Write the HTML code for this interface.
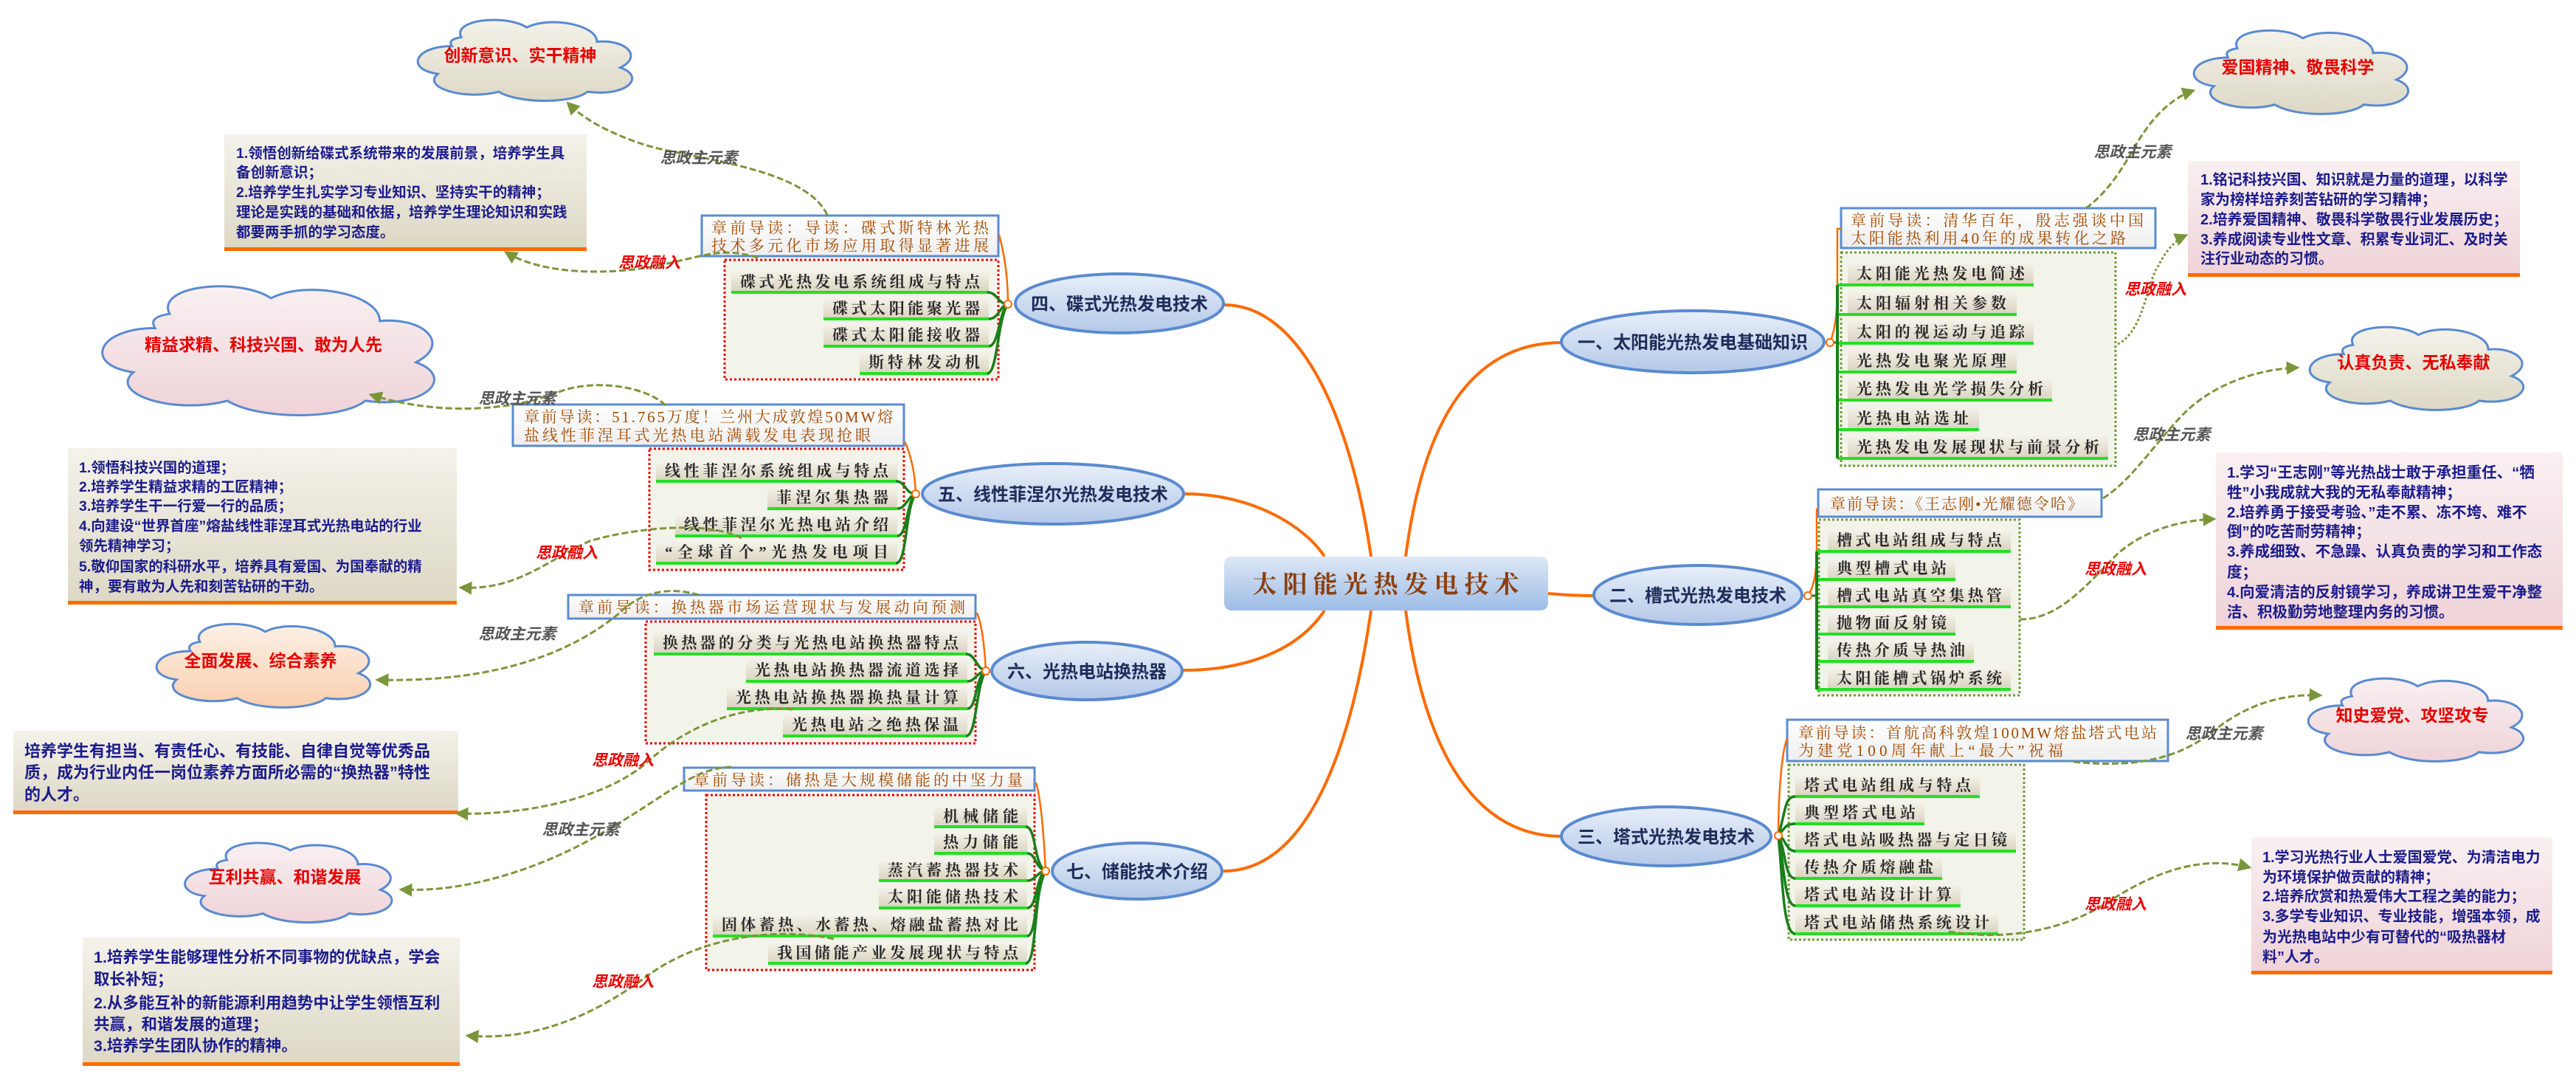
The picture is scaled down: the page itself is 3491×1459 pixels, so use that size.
<!DOCTYPE html>
<html><head><meta charset="utf-8"><style>
html,body{margin:0;padding:0;background:#fff}
svg{display:block}
.sans{font-family:"Liberation Sans","Noto Sans CJK SC",sans-serif;font-weight:bold}
.ser{font-family:"Liberation Serif","Noto Serif CJK SC",serif}
.bt{font-family:"Liberation Sans","Noto Sans CJK SC",sans-serif;font-weight:bold;fill:#1c1c8c}
.it{font-family:"Liberation Serif","Noto Serif CJK SC",serif;font-size:21px;fill:#2a2a2a;font-weight:bold}
.ld{font-family:"Liberation Serif","Noto Serif CJK SC",serif;font-size:21px;fill:#a34a00}
.nd{font-family:"Liberation Sans","Noto Sans CJK SC",sans-serif;font-weight:bold;font-size:24px;fill:#1f2d5a}
.zy{font-family:"Liberation Sans","Noto Sans CJK SC",sans-serif;font-weight:bold;font-style:italic;font-size:21px;fill:#555}
.rj{font-family:"Liberation Sans","Noto Sans CJK SC",sans-serif;font-weight:bold;font-style:italic;font-size:21px;fill:#e00}
.cl{font-family:"Liberation Sans","Noto Sans CJK SC",sans-serif;font-weight:bold;font-size:23px;fill:#e60000}
.arr{fill:none;stroke:#7b963a;stroke-width:3;stroke-dasharray:9,4}
.arrd{fill:none;stroke:#7b963a;stroke-width:3;stroke-dasharray:3,3}
.main{fill:none;stroke:#ff6a00;stroke-width:4}
.or{fill:none;stroke:#ff6a00;stroke-width:2.5}
.gr{fill:none;stroke:#1a7f1a;stroke-width:3.5}
</style></head><body>
<svg width="3491" height="1459" viewBox="0 0 3491 1459" xmlns="http://www.w3.org/2000/svg">
<defs>
<linearGradient id="gBeige" x1="0" y1="0" x2="0" y2="1"><stop offset="0" stop-color="#f4f2ea"/><stop offset="1" stop-color="#ddd8c5"/></linearGradient>
<linearGradient id="gPink" x1="0" y1="0" x2="0" y2="1"><stop offset="0" stop-color="#f9f0f1"/><stop offset="1" stop-color="#efd3d8"/></linearGradient>
<linearGradient id="gPeach" x1="0" y1="0" x2="0" y2="1"><stop offset="0" stop-color="#fdf0e4"/><stop offset="1" stop-color="#f9cfb0"/></linearGradient>
<linearGradient id="gItem" x1="0" y1="0" x2="0" y2="1"><stop offset="0" stop-color="#f6f4ec"/><stop offset="1" stop-color="#d9d3bf"/></linearGradient>
<linearGradient id="gLead" x1="0" y1="0" x2="0" y2="1"><stop offset="0" stop-color="#ffffff"/><stop offset="1" stop-color="#eeeeee"/></linearGradient>
<linearGradient id="gNode" x1="0" y1="0" x2="0" y2="1"><stop offset="0" stop-color="#e8eff9"/><stop offset="1" stop-color="#b3c8e8"/></linearGradient>
<linearGradient id="gCenter" x1="0" y1="0" x2="0" y2="1"><stop offset="0" stop-color="#dde8f6"/><stop offset="1" stop-color="#9dbce6"/></linearGradient>
<marker id="ah" viewBox="0 0 10 10" refX="8" refY="5" markerWidth="6" markerHeight="6" orient="auto"><path d="M0,0 L10,5 L0,10 z" fill="#7b963a"/></marker>
<symbol id="cloud" viewBox="0 0 100 100" preserveAspectRatio="none">
<path d="M20,36 C4,36 0,62 14,67 C7,82 25,97 40,87 C49,101 72,100 78,87 C95,93 103,70 92,60 C102,47 94,28 82,31 C82,12 62,2 52,15 C43,0 20,6 24,26 C19,28 19,32 20,36 Z" vector-effect="non-scaling-stroke" stroke="#5a8ad0" stroke-width="3"/>
</symbol>
</defs>

<!-- main connectors -->
<path class="main" d="M1659,413 C1760,413 1830,560 1858,754"/>
<path class="main" d="M1905,754 C1930,560 2000,464 2117,464"/>
<path class="main" d="M1605,669 C1700,669 1770,715 1795,754"/>
<path class="main" d="M2098,804 C2120,806 2140,807 2161,807"/>
<path class="main" d="M1795,827 C1760,880 1690,908 1603,908"/>
<path class="main" d="M1858,827 C1830,1020 1770,1180 1658,1180"/>
<path class="main" d="M1905,827 C1930,1020 2000,1133 2117,1133"/>

<!-- center -->
<rect x="1659" y="754" width="439" height="73" rx="10" fill="url(#gCenter)"/>
<text x="1882" y="803" text-anchor="middle" class="ser" font-size="33" font-weight="bold" fill="#8b3f0e" letter-spacing="8">太阳能光热发电技术</text>

<!-- nodes -->
<ellipse cx="1517" cy="411" rx="141" ry="40" fill="url(#gNode)" stroke="#5a8ad0" stroke-width="4"/>
<text x="1517" y="420" text-anchor="middle" class="nd">四、碟式光热发电技术</text>
<ellipse cx="1427" cy="669" rx="177" ry="41" fill="url(#gNode)" stroke="#5a8ad0" stroke-width="4"/>
<text x="1427" y="678" text-anchor="middle" class="nd">五、线性菲涅尔光热发电技术</text>
<ellipse cx="1473" cy="909" rx="129" ry="39" fill="url(#gNode)" stroke="#5a8ad0" stroke-width="4"/>
<text x="1473" y="918" text-anchor="middle" class="nd">六、光热电站换热器</text>
<ellipse cx="1541" cy="1180" rx="115" ry="38" fill="url(#gNode)" stroke="#5a8ad0" stroke-width="4"/>
<text x="1541" y="1189" text-anchor="middle" class="nd">七、储能技术介绍</text>
<ellipse cx="2294" cy="463" rx="178" ry="42" fill="url(#gNode)" stroke="#5a8ad0" stroke-width="4"/>
<text x="2294" y="472" text-anchor="middle" class="nd">一、太阳能光热发电基础知识</text>
<ellipse cx="2301" cy="806" rx="141" ry="40" fill="url(#gNode)" stroke="#5a8ad0" stroke-width="4"/>
<text x="2301" y="815" text-anchor="middle" class="nd">二、槽式光热发电技术</text>
<ellipse cx="2258" cy="1133" rx="142" ry="40" fill="url(#gNode)" stroke="#5a8ad0" stroke-width="4"/>
<text x="2258" y="1142" text-anchor="middle" class="nd">三、塔式光热发电技术</text>

<!-- ===== group 四 ===== -->
<rect x="982" y="352" width="371" height="162" fill="#f2f4ea" stroke="#e00" stroke-width="3" stroke-dasharray="3,3"/>
<rect x="951" y="292" width="402" height="55" fill="url(#gLead)" stroke="#5b8bd0" stroke-width="3"/>
<text x="964" y="316" class="ld" textLength="376" lengthAdjust="spacing">章前导读：导读：碟式斯特林光热</text>
<text x="964" y="340" class="ld" textLength="376" lengthAdjust="spacing">技术多元化市场应用取得显著进展</text>
<path class="or" d="M1366,412 C1366,370 1360,340 1354,318"/>
<g>
<rect x="991" y="365" width="349" height="31" fill="url(#gItem)"/><line x1="991" y1="396" x2="1340" y2="396" stroke="#22e022" stroke-width="4"/>
<text x="1003" y="389" class="it" textLength="325" lengthAdjust="spacing">碟式光热发电系统组成与特点</text>
<rect x="1116" y="403" width="224" height="29" fill="url(#gItem)"/><line x1="1116" y1="432" x2="1340" y2="432" stroke="#22e022" stroke-width="4"/>
<text x="1128" y="425" class="it" textLength="200" lengthAdjust="spacing">碟式太阳能聚光器</text>
<rect x="1116" y="438" width="224" height="31" fill="url(#gItem)"/><line x1="1116" y1="469" x2="1340" y2="469" stroke="#22e022" stroke-width="4"/>
<text x="1128" y="461" class="it" textLength="200" lengthAdjust="spacing">碟式太阳能接收器</text>
<rect x="1165" y="475" width="175" height="31" fill="url(#gItem)"/><line x1="1165" y1="506" x2="1340" y2="506" stroke="#22e022" stroke-width="4"/>
<text x="1177" y="498" class="it" textLength="151" lengthAdjust="spacing">斯特林发动机</text>
</g>
<path class="gr" d="M1366,412 C1352,412 1352,396 1338,396 M1366,412 C1356,412 1354,432 1340,432 M1366,412 C1354,420 1354,469 1340,469 M1366,412 C1352,430 1352,506 1338,506"/>
<circle cx="1366" cy="412" r="5" fill="#fff" stroke="#ff6a00" stroke-width="2"/>

<!-- ===== group 五 ===== -->
<rect x="880" y="608" width="345" height="164" fill="#f2f4ea" stroke="#e00" stroke-width="3" stroke-dasharray="3,3"/>
<rect x="695" y="548" width="530" height="56" fill="url(#gLead)" stroke="#5b8bd0" stroke-width="3"/>
<text x="710" y="572" class="ld" textLength="500" lengthAdjust="spacing">章前导读：51.765万度！兰州大成敦煌50MW熔</text>
<text x="710" y="597" class="ld" textLength="470" lengthAdjust="spacing">盐线性菲涅耳式光热电站满载发电表现抢眼</text>
<path class="or" d="M1241,669 C1240,640 1234,615 1226,598"/>
<rect x="889" y="624" width="327" height="28" fill="url(#gItem)"/><line x1="889" y1="652" x2="1216" y2="652" stroke="#22e022" stroke-width="4"/>
<text x="901" y="645" class="it" textLength="303" lengthAdjust="spacing">线性菲涅尔系统组成与特点</text>
<rect x="1040" y="659" width="176" height="30" fill="url(#gItem)"/><line x1="1040" y1="689" x2="1216" y2="689" stroke="#22e022" stroke-width="4"/>
<text x="1052" y="681" class="it" textLength="152" lengthAdjust="spacing">菲涅尔集热器</text>
<rect x="915" y="696" width="301" height="30" fill="url(#gItem)"/><line x1="915" y1="726" x2="1216" y2="726" stroke="#22e022" stroke-width="4"/>
<text x="927" y="718" class="it" textLength="277" lengthAdjust="spacing">线性菲涅尔光热电站介绍</text>
<rect x="889" y="732" width="327" height="31" fill="url(#gItem)"/><line x1="889" y1="763" x2="1216" y2="763" stroke="#22e022" stroke-width="4"/>
<text x="901" y="755" class="it" textLength="303" lengthAdjust="spacing">“全球首个”光热发电项目</text>
<path class="gr" d="M1241,669 C1226,669 1228,652 1214,652 M1241,669 C1230,672 1228,689 1216,689 M1241,669 C1228,680 1230,726 1216,726 M1241,669 C1226,690 1230,763 1214,763"/>
<circle cx="1241" cy="669" r="5" fill="#fff" stroke="#ff6a00" stroke-width="2"/>

<!-- ===== group 六 ===== -->
<rect x="875" y="842" width="447" height="165" fill="#f2f4ea" stroke="#e00" stroke-width="3" stroke-dasharray="3,3"/>
<rect x="770" y="806" width="552" height="32" fill="url(#gLead)" stroke="#5b8bd0" stroke-width="3"/>
<text x="784" y="830" class="ld" textLength="524" lengthAdjust="spacing">章前导读：换热器市场运营现状与发展动向预测</text>
<path class="or" d="M1336,909 C1334,870 1330,845 1324,830"/>
<rect x="886" y="853" width="425" height="33" fill="url(#gItem)"/><line x1="886" y1="886" x2="1311" y2="886" stroke="#22e022" stroke-width="4"/>
<text x="898" y="878" class="it" textLength="401" lengthAdjust="spacing">换热器的分类与光热电站换热器特点</text>
<rect x="1011" y="890" width="300" height="33" fill="url(#gItem)"/><line x1="1011" y1="923" x2="1311" y2="923" stroke="#22e022" stroke-width="4"/>
<text x="1023" y="915" class="it" textLength="276" lengthAdjust="spacing">光热电站换热器流道选择</text>
<rect x="985" y="928" width="326" height="32" fill="url(#gItem)"/><line x1="985" y1="960" x2="1311" y2="960" stroke="#22e022" stroke-width="4"/>
<text x="997" y="952" class="it" textLength="302" lengthAdjust="spacing">光热电站换热器换热量计算</text>
<rect x="1061" y="965" width="250" height="32" fill="url(#gItem)"/><line x1="1061" y1="997" x2="1311" y2="997" stroke="#22e022" stroke-width="4"/>
<text x="1073" y="989" class="it" textLength="226" lengthAdjust="spacing">光热电站之绝热保温</text>
<path class="gr" d="M1336,909 C1322,905 1322,886 1309,886 M1336,909 C1324,910 1322,923 1311,923 M1336,909 C1322,915 1324,960 1311,960 M1336,909 C1322,930 1324,997 1309,997"/>
<circle cx="1336" cy="909" r="5" fill="#fff" stroke="#ff6a00" stroke-width="2"/>

<!-- ===== group 七 ===== -->
<rect x="957" y="1077" width="445" height="237" fill="#f2f4ea" stroke="#e00" stroke-width="3" stroke-dasharray="3,3"/>
<rect x="927" y="1040" width="475" height="31" fill="url(#gLead)" stroke="#5b8bd0" stroke-width="3"/>
<text x="940" y="1064" class="ld" textLength="446" lengthAdjust="spacing">章前导读：储热是大规模储能的中坚力量</text>
<path class="or" d="M1417,1180 C1414,1120 1410,1080 1404,1060"/>
<rect x="1266" y="1091" width="126" height="29" fill="url(#gItem)"/><line x1="1266" y1="1120" x2="1392" y2="1120" stroke="#22e022" stroke-width="4"/>
<text x="1278" y="1113" class="it" textLength="102" lengthAdjust="spacing">机械储能</text>
<rect x="1266" y="1126" width="126" height="30" fill="url(#gItem)"/><line x1="1266" y1="1156" x2="1392" y2="1156" stroke="#22e022" stroke-width="4"/>
<text x="1278" y="1148" class="it" textLength="102" lengthAdjust="spacing">热力储能</text>
<rect x="1191" y="1164" width="201" height="29" fill="url(#gItem)"/><line x1="1191" y1="1193" x2="1392" y2="1193" stroke="#22e022" stroke-width="4"/>
<text x="1203" y="1186" class="it" textLength="177" lengthAdjust="spacing">蒸汽蓄热器技术</text>
<rect x="1191" y="1200" width="201" height="30" fill="url(#gItem)"/><line x1="1191" y1="1230" x2="1392" y2="1230" stroke="#22e022" stroke-width="4"/>
<text x="1203" y="1222" class="it" textLength="177" lengthAdjust="spacing">太阳能储热技术</text>
<rect x="966" y="1238" width="426" height="30" fill="url(#gItem)"/><line x1="966" y1="1268" x2="1392" y2="1268" stroke="#22e022" stroke-width="4"/>
<text x="978" y="1260" class="it" textLength="402" lengthAdjust="spacing">固体蓄热、水蓄热、熔融盐蓄热对比</text>
<rect x="1041" y="1276" width="351" height="29" fill="url(#gItem)"/><line x1="1041" y1="1305" x2="1392" y2="1305" stroke="#22e022" stroke-width="4"/>
<text x="1053" y="1298" class="it" textLength="327" lengthAdjust="spacing">我国储能产业发展现状与特点</text>
<path class="gr" d="M1417,1180 C1400,1170 1405,1120 1390,1120 M1417,1180 C1402,1175 1404,1156 1392,1156 M1417,1180 C1406,1180 1404,1193 1392,1193 M1417,1180 C1404,1185 1406,1230 1392,1230 M1417,1180 C1402,1195 1406,1268 1392,1268 M1417,1180 C1400,1210 1406,1305 1390,1305"/>
<circle cx="1417" cy="1180" r="5" fill="#fff" stroke="#ff6a00" stroke-width="2"/>

<!-- ===== group 一 ===== -->
<rect x="2495" y="342" width="372" height="289" fill="#f2f4ea" stroke="#6f9a3a" stroke-width="3" stroke-dasharray="3,3"/>
<rect x="2495" y="282" width="426" height="54" fill="url(#gLead)" stroke="#5b8bd0" stroke-width="3"/>
<text x="2508" y="306" class="ld" textLength="397" lengthAdjust="spacing">章前导读：清华百年，殷志强谈中国</text>
<text x="2508" y="330" class="ld" textLength="373" lengthAdjust="spacing">太阳能热利用40年的成果转化之路</text>
<path class="or" d="M2480,464 Q2490,440 2490,390 L2490,310 L2495,310"/>
<rect x="2504" y="354" width="252" height="32" fill="url(#gItem)"/><line x1="2490" y1="386" x2="2756" y2="386" stroke="#22e022" stroke-width="4"/>
<text x="2516" y="378" class="it" textLength="228" lengthAdjust="spacing">太阳能光热发电简述</text>
<rect x="2504" y="393" width="229" height="33" fill="url(#gItem)"/><line x1="2490" y1="426" x2="2733" y2="426" stroke="#22e022" stroke-width="4"/>
<text x="2516" y="418" class="it" textLength="203" lengthAdjust="spacing">太阳辐射相关参数</text>
<rect x="2504" y="432" width="252" height="33" fill="url(#gItem)"/><line x1="2490" y1="465" x2="2756" y2="465" stroke="#22e022" stroke-width="4"/>
<text x="2516" y="457" class="it" textLength="228" lengthAdjust="spacing">太阳的视运动与追踪</text>
<rect x="2504" y="471" width="229" height="33" fill="url(#gItem)"/><line x1="2490" y1="504" x2="2733" y2="504" stroke="#22e022" stroke-width="4"/>
<text x="2516" y="496" class="it" textLength="203" lengthAdjust="spacing">光热发电聚光原理</text>
<rect x="2504" y="510" width="277" height="32" fill="url(#gItem)"/><line x1="2490" y1="542" x2="2781" y2="542" stroke="#22e022" stroke-width="4"/>
<text x="2516" y="534" class="it" textLength="253" lengthAdjust="spacing">光热发电光学损失分析</text>
<rect x="2504" y="549" width="178" height="33" fill="url(#gItem)"/><line x1="2490" y1="582" x2="2682" y2="582" stroke="#22e022" stroke-width="4"/>
<text x="2516" y="574" class="it" textLength="152" lengthAdjust="spacing">光热电站选址</text>
<rect x="2504" y="588" width="353" height="33" fill="url(#gItem)"/><line x1="2490" y1="621" x2="2857" y2="621" stroke="#22e022" stroke-width="4"/>
<text x="2516" y="613" class="it" textLength="329" lengthAdjust="spacing">光热发电发展现状与前景分析</text>
<line x1="2490" y1="386" x2="2490" y2="621" stroke="#1a7f1a" stroke-width="4"/>
<line x1="2480" y1="464" x2="2490" y2="464" stroke="#1a7f1a" stroke-width="3"/>
<circle cx="2480" cy="464" r="5" fill="#fff" stroke="#ff6a00" stroke-width="2"/>

<!-- ===== group 二 ===== -->
<rect x="2465" y="704" width="272" height="238" fill="#f2f4ea" stroke="#6f9a3a" stroke-width="3" stroke-dasharray="3,3"/>
<rect x="2464" y="663" width="384" height="37" fill="url(#gLead)" stroke="#5b8bd0" stroke-width="3"/>
<text x="2480" y="690" class="ld" textLength="343" lengthAdjust="spacing">章前导读：《王志刚•光耀德令哈》</text>
<path class="or" d="M2450,807 Q2462,790 2462,747 L2462,690 L2464,690"/>
<rect x="2477" y="716" width="248" height="31" fill="url(#gItem)"/><line x1="2462" y1="747" x2="2725" y2="747" stroke="#22e022" stroke-width="4"/>
<text x="2489" y="739" class="it" textLength="224" lengthAdjust="spacing">槽式电站组成与特点</text>
<rect x="2477" y="756" width="173" height="29" fill="url(#gItem)"/><line x1="2462" y1="785" x2="2650" y2="785" stroke="#22e022" stroke-width="4"/>
<text x="2489" y="777" class="it" textLength="149" lengthAdjust="spacing">典型槽式电站</text>
<rect x="2477" y="793" width="248" height="29" fill="url(#gItem)"/><line x1="2462" y1="822" x2="2725" y2="822" stroke="#22e022" stroke-width="4"/>
<text x="2489" y="814" class="it" textLength="224" lengthAdjust="spacing">槽式电站真空集热管</text>
<rect x="2477" y="830" width="173" height="29" fill="url(#gItem)"/><line x1="2462" y1="859" x2="2650" y2="859" stroke="#22e022" stroke-width="4"/>
<text x="2489" y="851" class="it" textLength="149" lengthAdjust="spacing">抛物面反射镜</text>
<rect x="2477" y="867" width="198" height="29" fill="url(#gItem)"/><line x1="2462" y1="896" x2="2675" y2="896" stroke="#22e022" stroke-width="4"/>
<text x="2489" y="888" class="it" textLength="174" lengthAdjust="spacing">传热介质导热油</text>
<rect x="2477" y="904" width="248" height="30" fill="url(#gItem)"/><line x1="2462" y1="934" x2="2725" y2="934" stroke="#22e022" stroke-width="4"/>
<text x="2489" y="926" class="it" textLength="224" lengthAdjust="spacing">太阳能槽式锅炉系统</text>
<line x1="2462" y1="747" x2="2462" y2="934" stroke="#1a7f1a" stroke-width="4"/>
<line x1="2450" y1="807" x2="2462" y2="807" stroke="#1a7f1a" stroke-width="3"/>
<circle cx="2450" cy="807" r="5" fill="#fff" stroke="#ff6a00" stroke-width="2"/>

<!-- ===== group 三 ===== -->
<rect x="2424" y="1036" width="319" height="237" fill="#f2f4ea" stroke="#6f9a3a" stroke-width="3" stroke-dasharray="3,3"/>
<rect x="2422" y="975" width="516" height="56" fill="url(#gLead)" stroke="#5b8bd0" stroke-width="3"/>
<text x="2437" y="1000" class="ld" textLength="486" lengthAdjust="spacing">章前导读：首航高科敦煌100MW熔盐塔式电站</text>
<text x="2437" y="1024" class="ld" textLength="359" lengthAdjust="spacing">为建党100周年献上“最大”祝福</text>
<path class="or" d="M2410,1132 C2410,1080 2414,1020 2422,1000"/>
<rect x="2433" y="1048" width="250" height="31" fill="url(#gItem)"/><line x1="2431" y1="1079" x2="2683" y2="1079" stroke="#22e022" stroke-width="4"/>
<text x="2445" y="1071" class="it" textLength="226" lengthAdjust="spacing">塔式电站组成与特点</text>
<rect x="2433" y="1086" width="175" height="30" fill="url(#gItem)"/><line x1="2431" y1="1116" x2="2608" y2="1116" stroke="#22e022" stroke-width="4"/>
<text x="2445" y="1108" class="it" textLength="151" lengthAdjust="spacing">典型塔式电站</text>
<rect x="2433" y="1123" width="299" height="30" fill="url(#gItem)"/><line x1="2431" y1="1153" x2="2732" y2="1153" stroke="#22e022" stroke-width="4"/>
<text x="2445" y="1145" class="it" textLength="275" lengthAdjust="spacing">塔式电站吸热器与定日镜</text>
<rect x="2433" y="1160" width="199" height="30" fill="url(#gItem)"/><line x1="2431" y1="1190" x2="2632" y2="1190" stroke="#22e022" stroke-width="4"/>
<text x="2445" y="1182" class="it" textLength="175" lengthAdjust="spacing">传热介质熔融盐</text>
<rect x="2433" y="1197" width="224" height="30" fill="url(#gItem)"/><line x1="2431" y1="1227" x2="2657" y2="1227" stroke="#22e022" stroke-width="4"/>
<text x="2445" y="1219" class="it" textLength="200" lengthAdjust="spacing">塔式电站设计计算</text>
<rect x="2433" y="1234" width="275" height="31" fill="url(#gItem)"/><line x1="2431" y1="1265" x2="2708" y2="1265" stroke="#22e022" stroke-width="4"/>
<text x="2445" y="1257" class="it" textLength="251" lengthAdjust="spacing">塔式电站储热系统设计</text>
<path class="gr" d="M2410,1132 C2420,1100 2418,1079 2433,1079 M2410,1132 C2420,1120 2420,1116 2433,1116 M2410,1132 C2420,1135 2420,1153 2433,1153 M2410,1132 C2420,1150 2418,1190 2433,1190 M2410,1132 C2418,1170 2418,1227 2433,1227 M2410,1132 C2416,1190 2416,1265 2433,1265"/>
<circle cx="2410" cy="1132" r="5" fill="#fff" stroke="#ff6a00" stroke-width="2"/>

<!-- ===== text boxes ===== -->
<rect x="304" y="182" width="491" height="155" fill="url(#gBeige)"/><rect x="304" y="335" width="491" height="5" fill="#ff6a00"/>
<g class="bt" font-size="19.5">
<text x="320" y="214">1.领悟创新给碟式系统带来的发展前景，培养学生具</text>
<text x="320" y="240">备创新意识；</text>
<text x="320" y="267">2.培养学生扎实学习专业知识、坚持实干的精神；</text>
<text x="320" y="294">理论是实践的基础和依据，培养学生理论知识和实践</text>
<text x="320" y="321">都要两手抓的学习态度。</text>
</g>
<rect x="92" y="607" width="527" height="208" fill="url(#gBeige)"/><rect x="92" y="814" width="527" height="5" fill="#ff6a00"/>
<g class="bt" font-size="19.5">
<text x="107" y="640">1.领悟科技兴国的道理；</text>
<text x="107" y="666">2.培养学生精益求精的工匠精神；</text>
<text x="107" y="692">3.培养学生干一行爱一行的品质；</text>
<text x="107" y="719">4.向建设“世界首座”熔盐线性菲涅耳式光热电站的行业</text>
<text x="107" y="746">领先精神学习；</text>
<text x="107" y="774">5.敬仰国家的科研水平，培养具有爱国、为国奉献的精</text>
<text x="107" y="801">神，要有敢为人先和刻苦钻研的干劲。</text>
</g>
<rect x="18" y="990" width="603" height="109" fill="url(#gBeige)"/><rect x="18" y="1098" width="603" height="5" fill="#ff6a00"/>
<g class="bt" font-size="22">
<text x="33" y="1025">培养学生有担当、有责任心、有技能、自律自觉等优秀品</text>
<text x="33" y="1054">质，成为行业内任一岗位素养方面所必需的“换热器”特性</text>
<text x="33" y="1084">的人才。</text>
</g>
<rect x="112" y="1270" width="511" height="170" fill="url(#gBeige)"/><rect x="112" y="1439" width="511" height="5" fill="#ff6a00"/>
<g class="bt" font-size="21.5">
<text x="127" y="1304">1.培养学生能够理性分析不同事物的优缺点，学会</text>
<text x="127" y="1334">取长补短；</text>
<text x="127" y="1366">2.从多能互补的新能源利用趋势中让学生领悟互利</text>
<text x="127" y="1395">共赢，和谐发展的道理；</text>
<text x="127" y="1424">3.培养学生团队协作的精神。</text>
</g>
<rect x="2965" y="218" width="450" height="153" fill="url(#gPink)"/><rect x="2965" y="370" width="450" height="5" fill="#ff6a00"/>
<g class="bt" font-size="20">
<text x="2982" y="250">1.铭记科技兴国、知识就是力量的道理，以科学</text>
<text x="2982" y="277">家为榜样培养刻苦钻研的学习精神；</text>
<text x="2982" y="304">2.培养爱国精神、敬畏科学敬畏行业发展历史；</text>
<text x="2982" y="331">3.养成阅读专业性文章、积累专业词汇、及时关</text>
<text x="2982" y="357">注行业动态的习惯。</text>
</g>
<rect x="3003" y="613" width="470" height="236" fill="url(#gPink)"/><rect x="3003" y="848" width="470" height="5" fill="#ff6a00"/>
<g class="bt" font-size="20.5">
<text x="3018" y="647">1.学习“王志刚”等光热战士敢于承担重任、“牺</text>
<text x="3018" y="674">牲”小我成就大我的无私奉献精神；</text>
<text x="3018" y="701">2.培养勇于接受考验、”走不累、冻不垮、难不</text>
<text x="3018" y="727">倒”的吃苦耐劳精神；</text>
<text x="3018" y="754">3.养成细致、不急躁、认真负责的学习和工作态</text>
<text x="3018" y="782">度；</text>
<text x="3018" y="809">4.向爱清洁的反射镜学习，养成讲卫生爱干净整</text>
<text x="3018" y="836">洁、积极勤劳地整理内务的习惯。</text>
</g>
<rect x="3051" y="1134" width="408" height="182" fill="url(#gPink)"/><rect x="3051" y="1315" width="408" height="5" fill="#ff6a00"/>
<g class="bt" font-size="20">
<text x="3066" y="1168">1.学习光热行业人士爱国爱党、为清洁电力</text>
<text x="3066" y="1195">为环境保护做贡献的精神；</text>
<text x="3066" y="1221">2.培养欣赏和热爱伟大工程之美的能力；</text>
<text x="3066" y="1248">3.多学专业知识、专业技能，增强本领，成</text>
<text x="3066" y="1276">为光热电站中少有可替代的“吸热器材</text>
<text x="3066" y="1303">料”人才。</text>
</g>

<!-- ===== clouds ===== -->
<use href="#cloud" x="549" y="19" width="317" height="121" fill="url(#gBeige)"/>
<text x="705" y="83" text-anchor="middle" class="cl" font-size="24">创新意识、实干精神</text>
<use href="#cloud" x="112" y="375" width="491" height="193" fill="url(#gPink)"/>
<text x="357" y="475" text-anchor="middle" class="cl" font-size="25">精益求精、科技兴国、敢为人先</text>
<use href="#cloud" x="195" y="837" width="316" height="125" fill="url(#gPeach)"/>
<text x="353" y="903" text-anchor="middle" class="cl">全面发展、综合素养</text>
<use href="#cloud" x="234" y="1134" width="306" height="119" fill="url(#gPink)"/>
<text x="386" y="1196" text-anchor="middle" class="cl" font-size="22">互利共赢、和谐发展</text>
<use href="#cloud" x="2956" y="33" width="317" height="125" fill="url(#gBeige)"/>
<text x="3114" y="99" text-anchor="middle" class="cl">爱国精神、敬畏科学</text>
<use href="#cloud" x="3113" y="435" width="316" height="124" fill="url(#gBeige)"/>
<text x="3271" y="499" text-anchor="middle" class="cl">认真负责、无私奉献</text>
<use href="#cloud" x="3111" y="911" width="318" height="124" fill="url(#gPink)"/>
<text x="3269" y="977" text-anchor="middle" class="cl">知史爱党、攻坚攻专</text>

<!-- ===== dashed arrows ===== -->
<path class="arr" marker-end="url(#ah)" d="M1121,291 C1090,225 930,215 870,195 C820,178 790,160 770,140"/>
<path class="arr" marker-end="url(#ah)" d="M1027,349 C980,335 960,345 900,358 C840,372 740,375 686,342"/>
<path class="arr" marker-end="url(#ah)" d="M902,549 C870,520 800,515 760,530 C700,555 600,565 503,535"/>
<path class="arr" marker-end="url(#ah)" d="M1005,729 C960,705 860,715 799,733 C740,760 700,800 625,796"/>
<path class="arr" marker-end="url(#ah)" d="M947,806 C910,795 870,800 840,830 C780,880 680,925 512,921"/>
<path class="arr" marker-end="url(#ah)" d="M1074,961 C1000,955 930,985 880,1030 C820,1085 700,1105 620,1102"/>
<path class="arr" marker-end="url(#ah)" d="M991,1039 C940,1040 900,1080 830,1120 C750,1170 640,1210 544,1205"/>
<path class="arr" marker-end="url(#ah)" d="M1130,1272 C1050,1255 950,1270 880,1320 C800,1380 720,1410 634,1403"/>
<path class="arr" marker-end="url(#ah)" d="M2827,282 C2870,250 2890,200 2905,180 C2925,150 2950,130 2972,123"/>
<path class="arrd" marker-end="url(#ah)" d="M2870,466 C2905,450 2910,380 2925,360 C2935,340 2948,325 2962,319"/>
<path class="arr" marker-end="url(#ah)" d="M2850,675 C2890,650 2920,600 2960,560 C3000,520 3060,500 3113,498"/>
<path class="arr" marker-end="url(#ah)" d="M2737,839 C2790,840 2830,790 2870,750 C2910,715 2960,705 3000,703"/>
<path class="arr" marker-end="url(#ah)" d="M2810,1032 C2890,1040 2950,1030 3000,990 C3050,950 3100,940 3144,942"/>
<path class="arr" marker-end="url(#ah)" d="M2641,1262 C2720,1275 2800,1260 2860,1220 C2930,1175 2990,1160 3048,1175"/>

<!-- labels -->
<g text-anchor="middle">
<text x="947" y="221" class="zy">思政主元素</text>
<text x="880" y="363" class="rj">思政融入</text>
<text x="701" y="547" class="zy">思政主元素</text>
<text x="768" y="756" class="rj">思政融入</text>
<text x="701" y="866" class="zy">思政主元素</text>
<text x="844" y="1037" class="rj">思政融入</text>
<text x="787" y="1131" class="zy">思政主元素</text>
<text x="844" y="1337" class="rj">思政融入</text>
<text x="2890" y="213" class="zy">思政主元素</text>
<text x="2921" y="399" class="rj">思政融入</text>
<text x="2943" y="596" class="zy">思政主元素</text>
<text x="2867" y="778" class="rj">思政融入</text>
<text x="3014" y="1001" class="zy">思政主元素</text>
<text x="2867" y="1232" class="rj">思政融入</text>
</g>
</svg>
</body></html>
